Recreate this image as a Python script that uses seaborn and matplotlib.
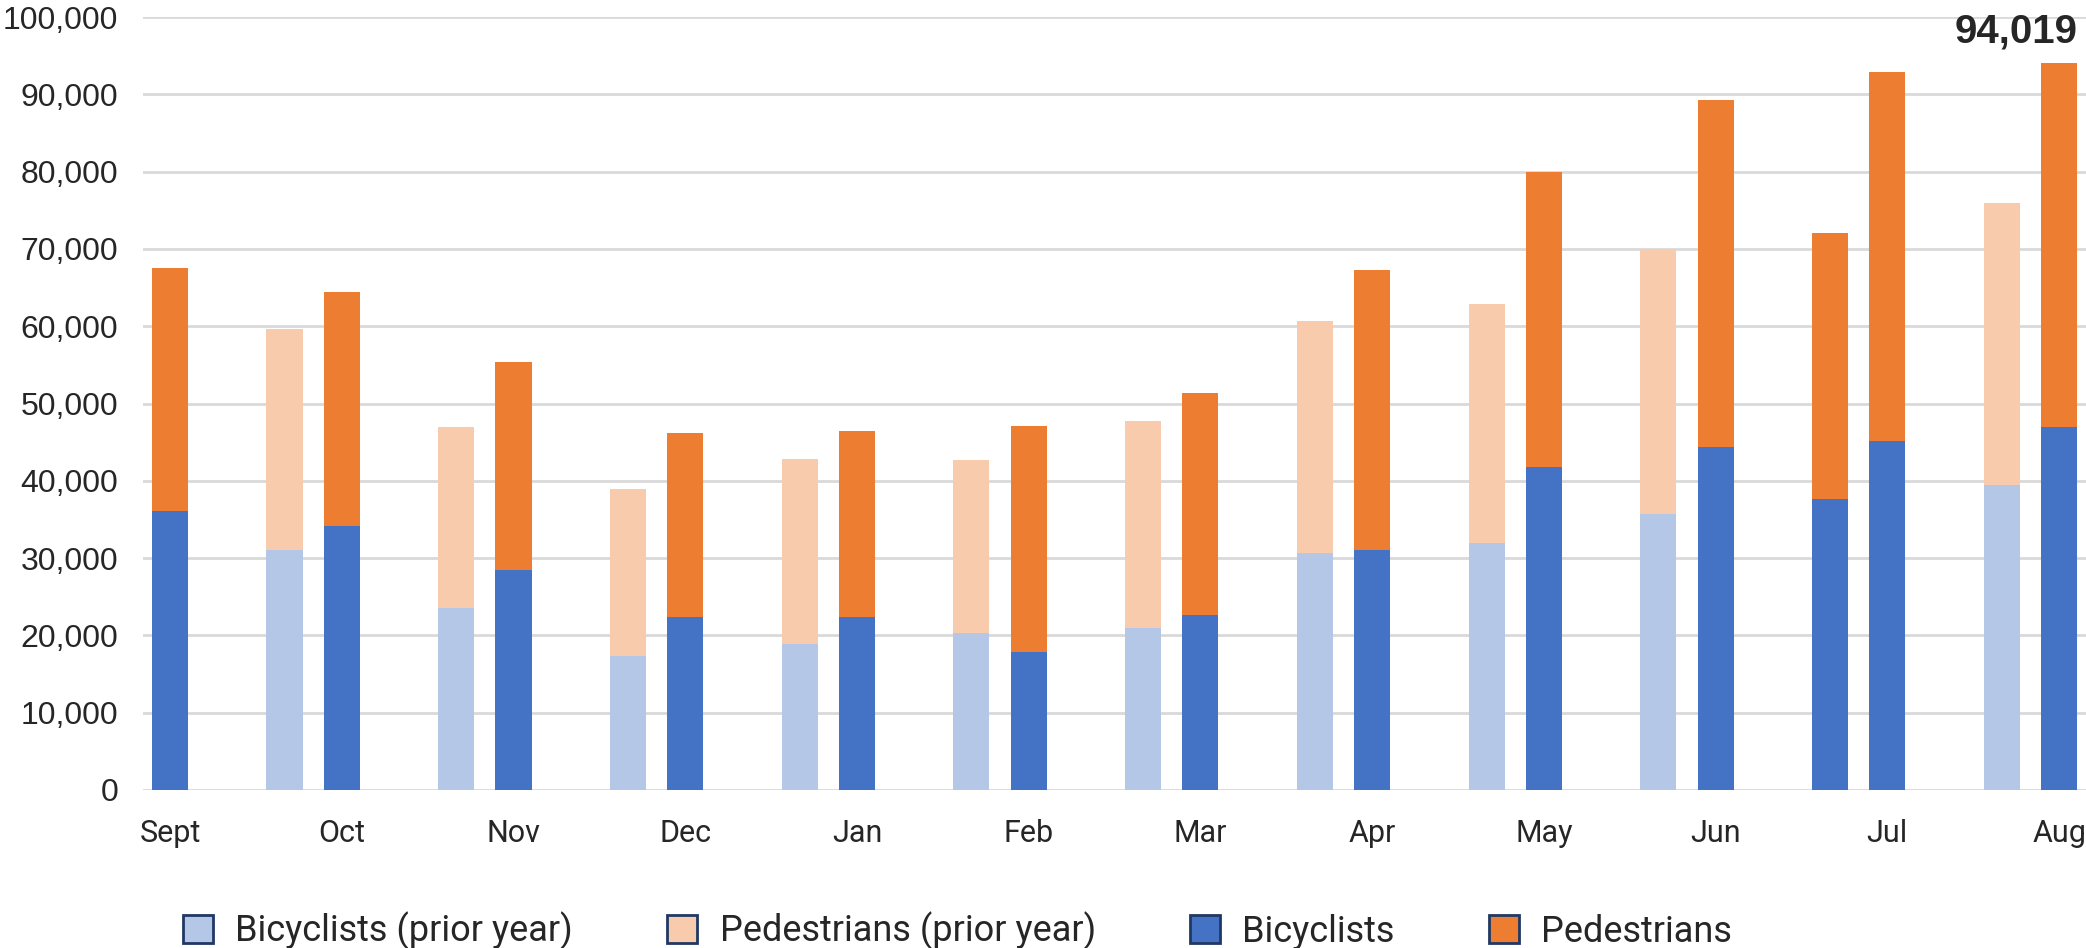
import numpy as np
import pandas as pd
import matplotlib.pyplot as plt
import seaborn as sns
from matplotlib.patches import Patch

# months shown on the x axis (Sept .. Aug)
months = ['Sept', 'Oct', 'Nov', 'Dec', 'Jan', 'Feb', 'Mar', 'Apr', 'May', 'Jun', 'Jul', 'Aug']

# prior year counts (no prior bar for Sept)
bike_prior = [np.nan, 31100, 23500, 17300, 18900, 20300, 21000, 30700, 32000, 35700, 37700, 39500]
ped_prior = [np.nan, 28500, 23500, 21600, 23900, 22400, 26700, 30000, 30900, 34300, 34300, 36400]

# current year counts
bike_cur = [36100, 34100, 28500, 22400, 22400, 17900, 22600, 31100, 41800, 44400, 45200, 47000]
ped_cur = [31400, 30300, 26900, 23800, 24000, 29200, 28800, 36200, 38200, 44900, 47700, 47019]

# in the source chart the Jul prior-year bar is drawn in the current-year colours
prior_bike_layer = ['Bicyclists (prior year)'] * 10 + ['Bicyclists', 'Bicyclists (prior year)']
prior_ped_layer = ['Pedestrians (prior year)'] * 10 + ['Pedestrians', 'Pedestrians (prior year)']

colors = {'Bicyclists (prior year)': '#b4c7e7',
          'Pedestrians (prior year)': '#f8cbad',
          'Bicyclists': '#4472c4',
          'Pedestrians': '#ed7d31'}

# build long tables: prior bar sits one slot left of the current bar
rows_top = []
rows_bot = []
for i, m in enumerate(months):
    if not np.isnan(bike_prior[i]):
        rows_top.append({'pos': 3 * i - 1, 'value': bike_prior[i] + ped_prior[i], 'layer': prior_ped_layer[i]})
        rows_bot.append({'pos': 3 * i - 1, 'value': bike_prior[i], 'layer': prior_bike_layer[i]})
    rows_top.append({'pos': 3 * i, 'value': bike_cur[i] + ped_cur[i], 'layer': 'Pedestrians'})
    rows_bot.append({'pos': 3 * i, 'value': bike_cur[i], 'layer': 'Bicyclists'})
df_top = pd.DataFrame(rows_top)
df_bot = pd.DataFrame(rows_bot)

sns.set_style('white')
plt.rcParams['font.family'] = ['Roboto', 'DejaVu Sans']

fig = plt.figure(figsize=(20.86, 9.48), dpi=100)
ax = fig.add_axes([0.0686, 0.1667, 0.9314, 0.8153])

sns.barplot(data=df_top, x='pos', y='value', hue='layer', palette=colors, native_scale=True,
            dodge=False, width=0.63, linewidth=0, saturation=1, legend=False, ax=ax)
sns.barplot(data=df_bot, x='pos', y='value', hue='layer', palette=colors, native_scale=True,
            dodge=False, width=0.63, linewidth=0, saturation=1, legend=False, ax=ax)

ax.set_ylim(0, 100000)
ax.set_xlim(-0.47, 33.47)
ax.set_yticks(np.arange(0, 100001, 10000))
ax.set_yticklabels([f'{v:,}' for v in range(0, 100001, 10000)], fontfamily='Liberation Sans', fontsize=23)
ax.set_xticks([3 * i for i in range(len(months))])
ax.set_xticklabels(months, fontsize=22)
ax.tick_params(axis='both', length=0)
ax.tick_params(axis='y', pad=18)
ax.tick_params(axis='x', pad=21)
ax.set_xlabel('')
ax.set_ylabel('')
ax.yaxis.grid(True, color='#d9d9d9', linewidth=2)
ax.set_axisbelow(True)
for s in ax.spines.values():
    s.set_visible(False)

# label on the last bar
aug_total = bike_cur[-1] + ped_cur[-1]
ax.annotate(f'{aug_total:,}', xy=(33 + 0.315, aug_total), xytext=(0, 9), textcoords='offset points',
            ha='right', va='bottom', fontsize=29, fontweight='bold', fontfamily='Liberation Sans')

handles = [Patch(facecolor=colors[k], edgecolor='#1f3864', linewidth=2, label=k) for k in colors]
fig.legend(handles=handles, loc='center left', bbox_to_anchor=(0.0875, 0.018), ncol=4, frameon=False,
           fontsize=26, handlelength=0.84, handleheight=0.84, handletextpad=0.62, columnspacing=2.6,
           borderpad=0, borderaxespad=0)

fig.savefig('out.png', dpi=100)
